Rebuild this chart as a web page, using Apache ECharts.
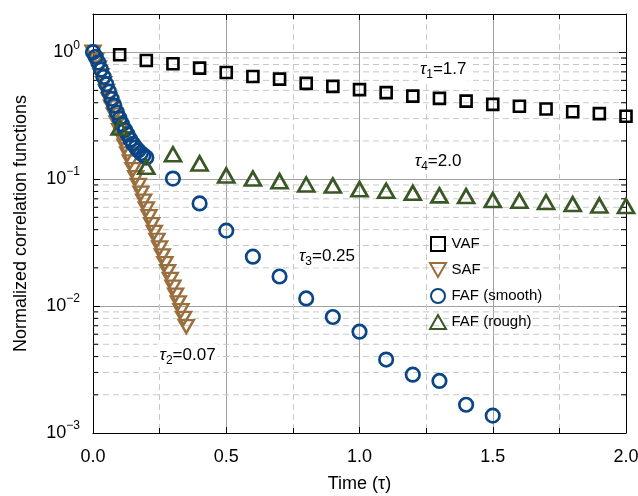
<!DOCTYPE html>
<html>
<head>
<meta charset="utf-8">
<script src="https://cdn.jsdelivr.net/npm/echarts@6/dist/echarts.min.js"></script>
<style>html,body{margin:0;padding:0;background:#fff;}#c{width:638px;height:496px;}</style>
</head>
<body>
<div id="c"></div>
<script>
// ---- data ----
const timeVAF = [0.1,0.2,0.3,0.4,0.5,0.6,0.7,0.8,0.9,1.0,1.1,1.2,1.3,1.4,1.5,1.6,1.7,1.8,1.9,2.0];
const vaf = [0.954,0.861,0.811,0.749,0.693,0.644,0.614,0.568,0.538,0.507,0.480,0.451,0.433,0.412,0.388,0.375,0.357,0.340,0.328,0.313];

const timeSAF = [0,0.01,0.02,0.03,0.04,0.05,0.06,0.07,0.08,0.09,0.10,0.11,0.12,0.13,0.14,0.15,0.16,0.17,0.18,0.19,0.20,0.21,0.22,0.23,0.24,0.25,0.26,0.27,0.28,0.29,0.30,0.31,0.32,0.33,0.34,0.35];
const saf = [1.0,0.868,0.753,0.653,0.566,0.491,0.426,0.370,0.321,0.278,0.241,0.209,0.182,0.158,0.137,0.119,0.103,0.0893,0.0775,0.0672,0.0583,0.0506,0.0439,0.0381,0.0330,0.0287,0.0249,0.0216,0.0187,0.0162,0.0141,0.0122,0.0106,0.0092,0.0080,0.0069];

const timeSmooth = [0,0.01,0.02,0.03,0.04,0.05,0.06,0.07,0.08,0.09,0.10,0.11,0.12,0.13,0.14,0.15,0.16,0.17,0.18,0.19,0.20,0.3,0.4,0.5,0.6,0.7,0.8,0.9,1.0,1.1,1.2,1.3,1.4,1.5];
const fafSmooth = [1.0,0.92,0.83,0.73,0.64,0.56,0.49,0.43,0.38,0.335,0.30,0.27,0.245,0.225,0.205,0.19,0.178,0.168,0.16,0.154,0.148,0.101,0.0644,0.0393,0.0245,0.0171,0.01148,0.0082,0.00628,0.00379,0.00288,0.00257,0.00167,0.00137];

const timeRough = [0.1,0.2,0.3,0.4,0.5,0.6,0.7,0.8,0.9,1.0,1.1,1.2,1.3,1.4,1.5,1.6,1.7,1.8,1.9,2.0];
const fafRough = [0.255,0.125,0.157,0.133,0.107,0.101,0.0964,0.0908,0.089,0.0834,0.081,0.078,0.0745,0.0735,0.0684,0.0675,0.066,0.0636,0.0621,0.0614];

const seriesNames = ['VAF','SAF','FAF (smooth)','FAF (rough)'];
const yMinorValues = [0.002,0.003,0.004,0.005,0.006,0.007,0.008,0.009,
                      0.02,0.03,0.04,0.05,0.06,0.07,0.08,0.09,
                      0.2,0.3,0.4,0.5,0.6,0.7,0.8,0.9];
const annotations = [
  {sym:'τ', sub:'1', rest:'=1.7', x:1.314, y:0.731},
  {sym:'τ', sub:'4', rest:'=2.0', x:1.295, y:0.138},
  {sym:'τ', sub:'3', rest:'=0.25', x:0.878, y:0.0248},
  {sym:'τ', sub:'2', rest:'=0.07', x:0.355, y:0.00407}
];

// ---- chart ----
const FONT = 'Liberation Sans, Arial, Helvetica, sans-serif';
const DOWN_TRI = 'path://M0,0L16,0L8,14Z';
const UP_TRI = 'path://M0,14L8,0L16,14Z';
const SQUARE = 'path://M0,0H12V12H0Z';
const zip = (a, b) => a.map((t, i) => [t, b[i]]);
const chart = echarts.init(document.getElementById('c'), null, {renderer: 'canvas'});

const supLabel = function (v) {
  const e = Math.log10(v);
  const r = Math.round(e);
  if (Math.abs(e - r) > 1e-6) return '';
  const s = r < 0 ? '\u2212' + Math.abs(r) : String(r);
  return '{b|10}{s|' + s + '}';
};

const markStyle = (color, bw) => ({color: 'rgba(0,0,0,0)', borderColor: color, borderWidth: bw, opacity: 1});

const option = {
  animation: false,
  backgroundColor: '#fff',
  grid: {left: 93, right: 12, top: 14, bottom: 63, outerBoundsMode: 'none', containLabel: false},
  legend: {
    data: [
      {name: seriesNames[0], icon: SQUARE},
      {name: seriesNames[1], icon: DOWN_TRI},
      {name: seriesNames[2], icon: 'circle'},
      {name: seriesNames[3], icon: UP_TRI}
    ],
    orient: 'vertical',
    left: 424, top: 231,
    itemWidth: 17, itemHeight: 14, itemGap: 10,
    symbolKeepAspect: true,
    textStyle: {fontSize: 15, fontFamily: FONT, color: '#000'},
    backgroundColor: 'transparent',
    selectedMode: false
  },
  xAxis: [{
    type: 'value', min: 0, max: 2, interval: 0.5, position: 'bottom',
    name: 'Time (τ)', nameLocation: 'middle', nameGap: 42,
    nameTextStyle: {fontSize: 18, fontFamily: FONT, color: '#000'},
    axisLine: {show: true, onZero: false, lineStyle: {color: '#000', width: 1}},
    axisTick: {show: true, inside: true, length: 6, lineStyle: {color: '#000'}},
    minorTick: {show: true, splitNumber: 2, length: 5, lineStyle: {color: '#000'}},
    axisLabel: {fontSize: 18, fontFamily: FONT, color: '#000', margin: 15,
      formatter: v => v.toFixed(1), showMaxLabel: true, showMinLabel: true},
    splitLine: {show: true, lineStyle: {color: '#a0a0a0', width: 1, type: 'solid'}},
    minorSplitLine: {show: true, lineStyle: {color: '#c8c8c8', width: 1, type: [6, 4]}}
  }, {
    type: 'value', min: 0, max: 2, interval: 0.5, position: 'top',
    axisLine: {show: true, onZero: false, lineStyle: {color: '#000', width: 1}},
    axisTick: {show: true, inside: true, length: 6, lineStyle: {color: '#000'}},
    minorTick: {show: true, splitNumber: 2, length: 5, lineStyle: {color: '#000'}},
    axisLabel: {show: false}, splitLine: {show: false}
  }],
  yAxis: [{
    type: 'log', logBase: 10, min: 0.001, max: 2, position: 'left',
    name: 'Normalized correlation functions', nameLocation: 'middle', nameGap: 63,
    nameTextStyle: {fontSize: 18, fontFamily: FONT, color: '#000'},
    axisLine: {show: true, onZero: false, lineStyle: {color: '#000', width: 1}},
    axisTick: {show: true, inside: true, length: 7, lineStyle: {color: '#000'}},
    axisLabel: {
      margin: 13, formatter: supLabel,
      rich: {
        b: {fontSize: 18, fontFamily: FONT, color: '#000'},
        s: {fontSize: 12, fontFamily: FONT, color: '#000', padding: [0, 0, 14, 0]}
      }
    },
    splitLine: {show: true, lineStyle: {color: '#a0a0a0', width: 1, type: 'solid'}}
  }, {
    type: 'log', logBase: 10, min: 0.001, max: 2, position: 'right',
    axisLine: {show: true, onZero: false, lineStyle: {color: '#000', width: 1}},
    axisTick: {show: true, inside: true, length: 7, lineStyle: {color: '#000'}},
    axisLabel: {show: false}, splitLine: {show: false}
  }],
  series: [
    {
      type: 'custom', name: 'minorGrid', xAxisIndex: 0, yAxisIndex: 0, z: 1, silent: true,
      data: yMinorValues.map(v => [0, v]),
      renderItem: function (params, api) {
        const cs = params.coordSys;
        const y = api.coord([0, api.value(1)])[1];
        return {type: 'group', children: [
          {type: 'line', shape: {x1: cs.x, y1: y, x2: cs.x + cs.width, y2: y},
           style: {stroke: '#c8c8c8', lineWidth: 1, lineDash: [6, 4]}},
          {type: 'line', shape: {x1: cs.x, y1: y, x2: cs.x + 5, y2: y},
           style: {stroke: '#000', lineWidth: 1}},
          {type: 'line', shape: {x1: cs.x + cs.width - 5, y1: y, x2: cs.x + cs.width, y2: y},
           style: {stroke: '#000', lineWidth: 1}}
        ]};
      }
    },
    {
      type: 'scatter', name: seriesNames[0], z: 3, data: zip(timeVAF, vaf),
      symbol: 'rect', symbolSize: 11, itemStyle: markStyle('#000000', 2.6),
      markPoint: {
        symbol: 'rect', symbolSize: 1, itemStyle: {color: 'rgba(0,0,0,0)'},
        silent: true, animation: false,
        label: {
          show: true, position: 'inside', color: '#000',
          backgroundColor: '#fff', padding: [0, 2, 0, 2],
          rich: {
            t: {fontSize: 17, fontFamily: FONT, color: '#000', fontStyle: 'italic'},
            sub: {fontSize: 12, fontFamily: FONT, color: '#000', padding: [11, 0, 0, 0]},
            r: {fontSize: 17, fontFamily: FONT, color: '#000'}
          }
        },
        data: annotations.map(a => ({
          coord: [a.x, a.y],
          label: {formatter: '{t|' + a.sym + '}{sub|' + a.sub + '}{r|' + a.rest + '}'}
        }))
      }
    },
    {
      type: 'scatter', name: seriesNames[1], z: 3, data: zip(timeSAF, saf),
      symbol: DOWN_TRI, symbolSize: [15, 13],
      itemStyle: markStyle('#9a6f3e', 2.4)
    },
    {
      type: 'scatter', name: seriesNames[2], z: 3, data: zip(timeSmooth, fafSmooth),
      symbol: 'circle', symbolSize: 13.5, itemStyle: markStyle('#0a4585', 2.7)
    },
    {
      type: 'scatter', name: seriesNames[3], z: 3, data: zip(timeRough, fafRough),
      symbol: UP_TRI, symbolSize: [16, 14], itemStyle: markStyle('#3a5826', 2.7)
    }
  ]
};
chart.setOption(option);
</script>
</body>
</html>
